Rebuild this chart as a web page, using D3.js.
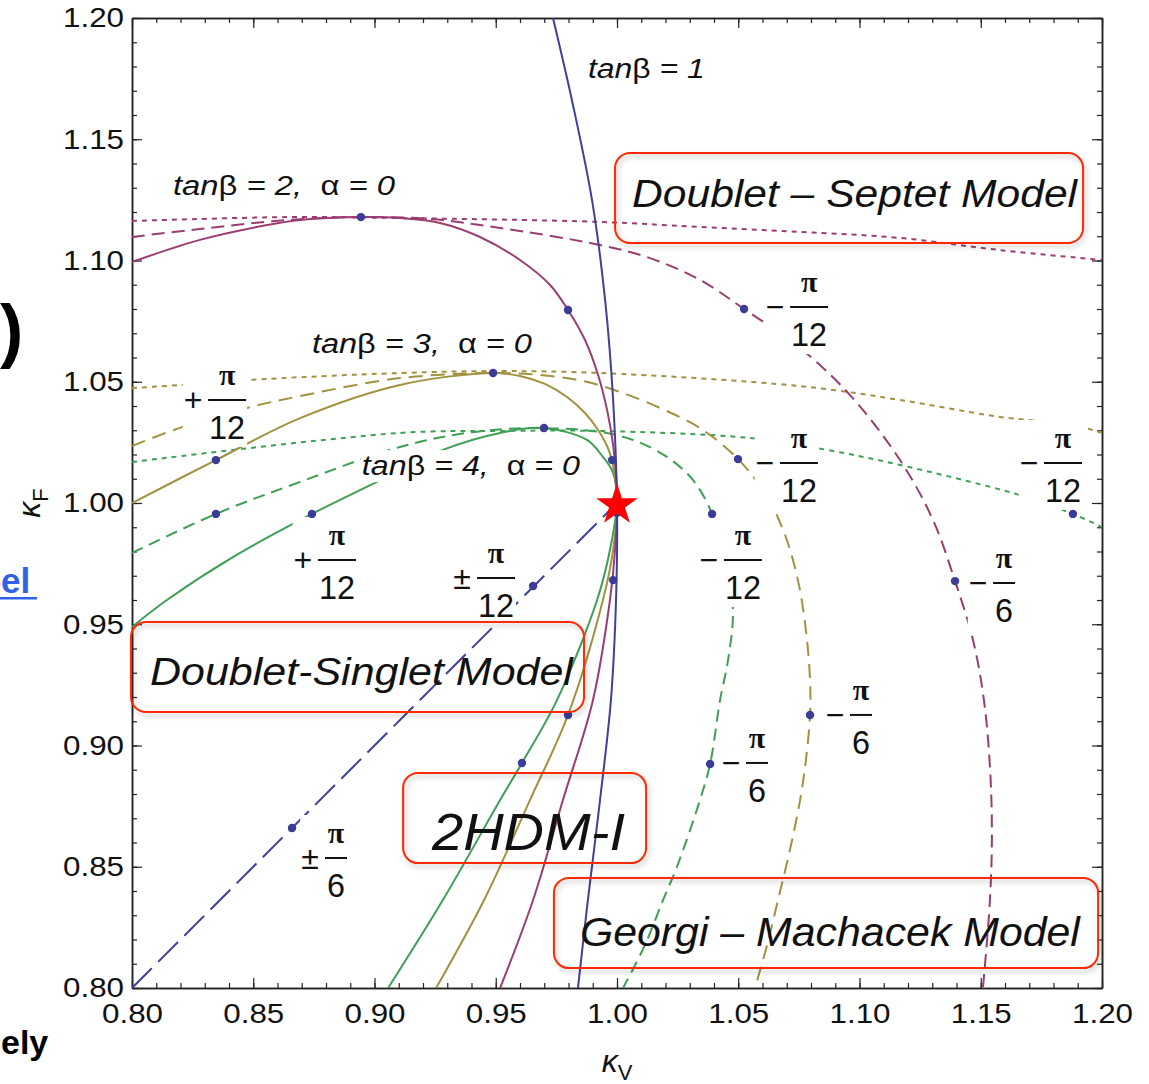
<!DOCTYPE html>
<html>
<head>
<meta charset="utf-8">
<script src="https://d3js.org/d3.v7.min.js"></script>
<style>
body { margin: 0; background: #fff; }
svg { display: block; }
text { white-space: pre; }
</style>
</head>
<body>
<script>
// kappa_V, kappa_F pairs
var tb1Solid = [[0.9736,1.2],[0.9814,1.1662],[0.9897,1.1249],[0.9951,1.0837],[0.9984,1.0425],[1.0,1.0],
  [0.9996,0.96],[0.9975,0.9188],[0.993,0.8775],[0.988,0.8363],[0.9839,0.8]];

var tb2Solid = [[0.8,1.0994],[0.828,1.1085],[0.8557,1.1146],[0.8693,1.1167],[0.8944,1.1179],[0.9105,1.1175],
  [0.927,1.1155],[0.9435,1.1097],[0.96,1.1002],[0.9724,1.0899],[0.9798,1.0796],[0.9868,1.0672],[0.9922,1.0528],
  [0.9959,1.0384],[0.9984,1.0239],[0.9996,1.0115],[1.0,1.0],
  [0.9992,0.9806],[0.9971,0.96],[0.9901,0.9188],[0.9777,0.8775],[0.9654,0.8363],[0.9518,0.8]];
var tb2Dashed = [[0.8,1.1097],[0.828,1.113],[0.8639,1.1167],[0.8944,1.1179],[0.9229,1.1171],[0.9518,1.1134],
  [0.993,1.1064],[1.0136,1.101],[1.0342,1.092],[1.0524,1.08],[1.0755,1.0639],[1.0961,1.0445],[1.1167,1.0177],
  [1.1303,0.993],[1.1394,0.9678],[1.1468,0.9435],[1.1513,0.9188],[1.1538,0.8911],[1.1546,0.8639],[1.1538,0.8363],[1.1509,0.8]];
var tb2Dotted = [[0.8,1.1163],[0.8639,1.1179],[0.9105,1.1175],[0.993,1.1159],[1.0344,1.1138],[1.0755,1.1118],
  [1.1167,1.1093],[1.1579,1.1043],[1.2,1.1002]];

var tb3Solid = [[0.8,1.0],[0.8346,1.0177],[0.8693,1.035],[0.9105,1.0487],[0.9489,1.0536],[0.96,1.0524],
  [0.9703,1.0491],[0.9794,1.0437],[0.9868,1.0371],[0.9922,1.0301],[0.9959,1.0235],[0.9979,1.0177],[0.9992,1.0103],[1.0,1.0],
  [0.9984,0.9806],[0.9942,0.96],[0.9798,0.9126],[0.9641,0.8775],[0.9452,0.8363],[0.9254,0.8]];
var tb3Dashed = [[0.8,1.0235],[0.8206,1.0313],[0.8474,1.0392],[0.8693,1.0441],[0.9105,1.0515],[0.9489,1.0536],
  [0.9682,1.0528],[0.986,1.0503],[1.0012,1.0458],[1.0177,1.0392],[1.0342,1.0309],[1.0499,1.0181],[1.0619,1.0025],
  [1.0693,0.9868],[1.0746,0.9682],[1.0779,0.9476],[1.0796,0.927],[1.0796,0.9126],[1.0779,0.894],[1.0755,0.8775],
  [1.0713,0.8569],[1.0664,0.8363],[1.0619,0.8177],[1.0569,0.8]];
var tb3Dotted = [[0.8,1.0474],[0.8206,1.0487],[0.8474,1.0507],[0.9105,1.0536],[0.9518,1.0544],[0.993,1.0536],
  [1.0755,1.0482],[1.1167,1.0425],[1.1579,1.0355],[1.188,1.0322],[1.2,1.0289]];

var tb4Solid = [[0.8,0.9489],[0.8144,0.96],[0.8416,0.9777],[0.8742,0.9955],[0.901,1.0087],[0.9282,1.0219],
  [0.9518,1.0289],[0.9699,1.0309],[0.9876,1.026],[0.9942,1.019],[0.9979,1.0136],[0.9996,1.0074],[1.0,1.0],
  [0.9971,0.9806],[0.9918,0.96],[0.9753,0.9188],[0.9608,0.8928],[0.9518,0.8775],[0.9282,0.8363],[0.9056,0.8]];
var tb4Dashed = [[0.8,0.9794],[0.8346,0.9955],[0.8693,1.0087],[0.9105,1.0231],[0.9381,1.0289],[0.9654,1.0309],
  [0.993,1.0293],[1.0066,1.026],[1.0206,1.019],[1.0313,1.0095],[1.0392,0.9955],[1.0445,0.9765],[1.0478,0.9559],
  [1.0458,0.9353],[1.0425,0.9188],[1.0384,0.8924],[1.0342,0.8775],[1.0247,0.8499],[1.019,0.8363],[1.0115,0.8177],[1.0025,0.8]];
var tb4Dotted = [[0.8,1.0169],[0.9105,1.0289],[0.9518,1.0297],[0.993,1.0297],[1.0548,1.0268],[1.0866,1.0219],
  [1.1167,1.0157],[1.1633,1.0041],[1.1757,1.0],[1.188,0.9955],[1.2,0.9901]];

var singletLine = [[0.8,0.8],[1.0,1.0]];

var markerPts = [[0.8944,1.1179],[0.9798,1.0796],[1.0524,1.08],[0.9489,1.0536],[0.8346,1.0177],[1.0499,1.0181],
  [0.9699,1.0309],[0.8346,0.9955],[0.8742,0.9955],[1.0392,0.9955],[1.188,0.9955],[0.998,1.0177],[1.0,0.996],
  [0.9984,0.9682],[0.9654,0.9658],[0.866,0.866],[1.1394,0.9678],[1.0796,0.9126],[1.0384,0.8924],[0.9798,0.9126],[0.9608,0.8928]];

var SM = [1.0, 1.0];

var tickVals = [0.80, 0.85, 0.90, 0.95, 1.00, 1.05, 1.10, 1.15, 1.20];

// angle labels: sign, denominator, anchor (kV, kF)
var angleSigns = ["−", "+", "+", "±", "−", "−", "−", "−", "−", "−", "±"];
var angleDens  = ["12", "12", "12", "12", "12", "12", "12", "6", "6", "6", "6"];
var angleAt = [[1.0652,1.0808],[0.8252,1.0425],[0.8705,0.9765],[0.9361,0.9691],[1.061,1.0165],[1.0379,0.9765],
  [1.1699,1.0165],[1.1489,0.967],[1.0899,0.9126],[1.047,0.8928],[0.8734,0.8536]];

var tanbVals = [1, 2, 3, 4];
var tanbAt = [[0.988,1.1753],[0.8169,1.127],[0.8742,1.0619],[0.8948,1.0115]];
var tanbLen = [117, 222, 220, 218];

var modelNames = ["Doublet – Septet Model", "Doublet-Singlet Model", "2HDM-I", "Georgi – Machacek Model"];
var modelBox = [[0.9992,1.1922,1.1443,1.1072],[0.7996,0.9864,0.9509,0.9138],[0.9118,1.012,0.8887,0.8515],[0.974,1.1984,0.8454,0.8082]];
var modelText = [[1.0062,1.1221],[0.8074,0.925],[0.9237,0.8569],[0.9847,0.8173]];
var modelSize = [38, 38, 51, 40];
var modelLen = [445, 423, 193, 500];

var FONT = "'Liberation Sans', Arial, Helvetica, sans-serif";
var BLUE = "#3f3f9c", MAG = "#9a3d72", OLIVE = "#a0923f", GREEN = "#3f9f55";

var svg = d3.select("body").append("svg")
  .attr("width", 1149).attr("height", 1084);
svg.append("rect").attr("width", 1149).attr("height", 1084).attr("fill", "#fff");

var x = d3.scaleLinear().domain([0.8, 1.2]).range([132, 1102]);
var y = d3.scaleLinear().domain([0.8, 1.2]).range([988, 18]);

var defs = svg.append("defs");
defs.append("clipPath").attr("id", "plot").append("rect")
  .attr("x", 132).attr("y", 18).attr("width", 970).attr("height", 970);
defs.append("filter").attr("id", "shadow").attr("x", "-10%").attr("y", "-10%").attr("width", "120%").attr("height", "130%")
  .append("feDropShadow").attr("dx", 2).attr("dy", 3).attr("stdDeviation", 2.5)
  .attr("flood-color", "#000").attr("flood-opacity", 0.25);

// axes
var minorVals = d3.range(80, 121).map(function(v) { return v / 100; });

function styleAxis(g) {
  g.select(".domain").attr("stroke", "#222").attr("stroke-width", 1.5);
  g.selectAll(".tick line").attr("stroke", "#222").attr("stroke-width", 1.2);
  g.selectAll("text").attr("font-family", FONT).attr("font-size", 28).attr("fill", "#111")
    .attr("textLength", 61).attr("lengthAdjust", "spacingAndGlyphs");
}

var fmt = d3.format(".2f");
[["bottom", d3.axisBottom(x), 988, true], ["top", d3.axisTop(x), 18, false]].forEach(function(a) {
  svg.append("g").attr("transform", "translate(0," + a[2] + ")")
    .call(a[1].tickValues(minorVals).tickSize(-5).tickSizeOuter(0).tickFormat(""))
    .call(styleAxis);
  var ax = (a[0] == "bottom" ? d3.axisBottom(x) : d3.axisTop(x));
  svg.append("g").attr("transform", "translate(0," + a[2] + ")")
    .call(ax.tickValues(tickVals).tickSize(-10).tickSizeOuter(0).tickPadding(15).tickFormat(a[3] ? fmt : ""))
    .call(styleAxis);
});
[["left", d3.axisLeft(y), 132, true], ["right", d3.axisRight(y), 1102, false]].forEach(function(a) {
  svg.append("g").attr("transform", "translate(" + a[2] + ",0)")
    .call(a[1].tickValues(minorVals).tickSize(-5).tickSizeOuter(0).tickFormat(""))
    .call(styleAxis);
  var ax = (a[0] == "left" ? d3.axisLeft(y) : d3.axisRight(y));
  svg.append("g").attr("transform", "translate(" + a[2] + ",0)")
    .call(ax.tickValues(tickVals).tickSize(-10).tickSizeOuter(0).tickPadding(8).tickFormat(a[3] ? fmt : ""))
    .call(styleAxis);
});

// axis titles
var xt = svg.append("text").attr("x", x(1.0)).attr("y", 1072).attr("text-anchor", "middle")
  .attr("font-family", FONT).attr("fill", "#111");
xt.append("tspan").attr("font-size", 32).attr("font-style", "italic").text("κ");
xt.append("tspan").attr("font-size", 22).attr("dy", 8).text("V");

var yt = svg.append("text").attr("transform", "translate(40," + y(1.0) + ") rotate(-90)")
  .attr("text-anchor", "middle").attr("font-family", FONT).attr("fill", "#111");
yt.append("tspan").attr("font-size", 32).attr("font-style", "italic").text("κ");
yt.append("tspan").attr("font-size", 22).attr("dy", 8).text("F");

// curves
var line = d3.line()
  .x(function(d) { return x(d[0]); })
  .y(function(d) { return y(d[1]); })
  .curve(d3.curveCatmullRom.alpha(0.5));

var curves = [
  [tb2Dotted, MAG, "5,5"], [tb3Dotted, OLIVE, "5,5"], [tb4Dotted, GREEN, "5,5"],
  [tb2Dashed, MAG, "13,7"], [tb3Dashed, OLIVE, "14,8"], [tb4Dashed, GREEN, "12,7"],
  [tb4Solid, GREEN, null], [tb3Solid, OLIVE, null], [tb2Solid, MAG, null], [tb1Solid, BLUE, null],
  [singletLine, BLUE, "28,9"]
];

var plot = svg.append("g").attr("clip-path", "url(#plot)");
plot.selectAll("path.curve")
  .data(curves)
  .enter()
  .append("path")
  .attr("class", "curve")
  .attr("d", function(d) { return line(d[0]); })
  .attr("fill", "none")
  .attr("stroke", function(d) { return d[1]; })
  .attr("stroke-width", 2)
  .attr("stroke-dasharray", function(d) { return d[2]; });

// labels with white background
function maskBehind(g, pad) {
  var b = g.node().getBBox();
  g.insert("rect", ":first-child")
    .attr("x", b.x - pad).attr("y", b.y - pad)
    .attr("width", b.width + 2 * pad).attr("height", b.height + 2 * pad)
    .attr("fill", "#fff");
}

tanbVals.forEach(function(tb, i) {
  var g = svg.append("g");
  var t = g.append("text")
    .attr("x", x(tanbAt[i][0])).attr("y", y(tanbAt[i][1]))
    .attr("font-family", FONT).attr("font-size", 27).attr("fill", "#111")
    .attr("textLength", tanbLen[i]).attr("lengthAdjust", "spacingAndGlyphs");
  t.append("tspan").attr("font-style", "italic").text("tan");
  t.append("tspan").text("β");
  if (tb == 1) {
    t.append("tspan").attr("font-style", "italic").text(" = " + tb);
  } else {
    t.append("tspan").attr("font-style", "italic").text(" = " + tb + ",  ");
    t.append("tspan").text("α");
    t.append("tspan").attr("font-style", "italic").text(" = 0");
  }
  maskBehind(g, 1);
});

angleAt.forEach(function(p, i) {
  var sx = x(p[0]), by = y(p[1]);
  var bw = angleDens[i] == "12" ? 38 : 22;
  var bx = sx + 15;
  var g = svg.append("g");
  g.append("text").attr("x", sx).attr("y", by).attr("dy", "0.35em").attr("text-anchor", "middle")
    .attr("font-family", FONT).attr("font-size", 32).attr("fill", "#111").text(angleSigns[i]);
  g.append("line").attr("x1", bx).attr("x2", bx + bw).attr("y1", by).attr("y2", by)
    .attr("stroke", "#111").attr("stroke-width", 2);
  g.append("text").attr("x", bx + bw / 2).attr("y", by - 15).attr("text-anchor", "middle")
    .attr("font-family", "'Liberation Serif', 'Times New Roman', serif").attr("font-weight", "bold")
    .attr("font-size", 30).attr("fill", "#111").text("π");
  g.append("text").attr("x", bx + bw / 2).attr("y", by + 39).attr("text-anchor", "middle")
    .attr("font-family", FONT).attr("font-size", 34).attr("fill", "#111")
    .attr("textLength", angleDens[i].length * 18).attr("lengthAdjust", "spacingAndGlyphs")
    .text(angleDens[i]);
  maskBehind(g, 1);
});

// points
svg.append("g").selectAll("circle")
  .data(markerPts)
  .enter()
  .append("circle")
  .attr("cx", function(d) { return x(d[0]); })
  .attr("cy", function(d) { return y(d[1]); })
  .attr("r", 4.2)
  .attr("fill", "#3b3b98");

// SM point
svg.append("path")
  .attr("d", d3.symbol().type(d3.symbolStar).size(540))
  .attr("transform", "translate(" + x(SM[0]) + "," + (y(SM[1]) + 2) + ")")
  .attr("fill", "#ff0000");

// model boxes
modelNames.forEach(function(name, i) {
  var b = modelBox[i];
  svg.append("rect")
    .attr("x", x(b[0])).attr("y", y(b[2]))
    .attr("width", x(b[1]) - x(b[0])).attr("height", y(b[3]) - y(b[2]))
    .attr("rx", 15).attr("fill", "none")
    .attr("stroke", "#ff2a00").attr("stroke-width", 2)
    .attr("filter", "url(#shadow)");
  svg.append("text")
    .attr("x", x(modelText[i][0])).attr("y", y(modelText[i][1]))
    .attr("font-family", FONT).attr("font-style", "italic")
    .attr("font-size", modelSize[i]).attr("fill", "#111")
    .attr("textLength", modelLen[i]).attr("lengthAdjust", "spacingAndGlyphs")
    .text(name);
});

// slide fragments at left edge
svg.append("text").attr("x", 0).attr("y", 354)
  .attr("font-family", FONT).attr("font-weight", "bold").attr("font-size", 70).attr("fill", "#000").text(")");
svg.append("text").attr("x", 1).attr("y", 593)
  .attr("font-family", FONT).attr("font-weight", "bold").attr("font-size", 35).attr("fill", "#2f62e6").text("el");
svg.append("rect").attr("x", 0).attr("y", 597).attr("width", 37).attr("height", 2.5).attr("fill", "#2f62e6");
svg.append("text").attr("x", 1).attr("y", 1054)
  .attr("font-family", FONT).attr("font-weight", "bold").attr("font-size", 34).attr("fill", "#000").text("ely");
</script>
</body>
</html>
